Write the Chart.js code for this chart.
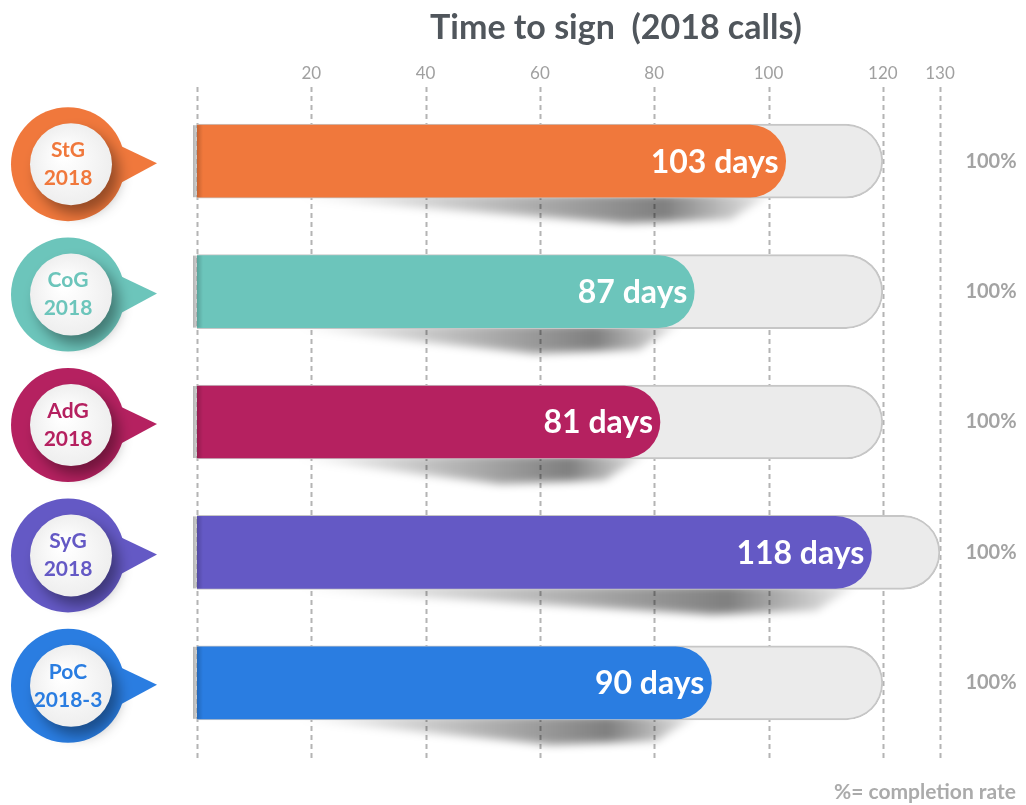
<!DOCTYPE html>
<html><head><meta charset="utf-8">
<script src="https://cdn.jsdelivr.net/npm/chart.js@4.4.1/dist/chart.umd.min.js"></script>
<style>html,body{margin:0;padding:0;background:#fff;}#wrap{width:1026px;height:805px;position:relative;}</style>
</head><body><div id="wrap"><canvas id="c" width="1026" height="805"></canvas></div>
<script>
const categories = ['StG 2018', 'CoG 2018', 'AdG 2018', 'SyG 2018', 'PoC 2018-3'];
const bubbleLine1 = ['StG', 'CoG', 'AdG', 'SyG', 'PoC'];
const bubbleLine2 = ['2018', '2018', '2018', '2018', '2018-3'];
const daysToSign = [103, 87, 81, 118, 90];
const trackMax = [120, 120, 120, 130, 120];
const completionRate = ['100%', '100%', '100%', '100%', '100%'];
const tickValues = [20, 40, 60, 80, 100, 120, 130];
const barColors = ['#F0783C', '#6CC5BB', '#B52160', '#6459C5', '#2A7DE1'];
const titleText = 'Time to sign  (2018 calls)';
const footnote = '%= completion rate';

const FONT = 'Lato, "Open Sans", sans-serif';
Chart.defaults.font.family = FONT;

const decor = {
  id: 'decor',
  beforeDraw(chart) {
    const ctx = chart.ctx, xs = chart.scales.x;
    ctx.save();
    ctx.fillStyle = '#fff';
    ctx.fillRect(0, 0, chart.width, chart.height);
    // title
    ctx.fillStyle = '#50565C';
    ctx.font = 'bold 34px ' + FONT;
    ctx.textAlign = 'center';
    ctx.textBaseline = 'middle';
    ctx.fillText(titleText, 616, 28);
    // dashed grid
    ctx.strokeStyle = '#B4B4B4';
    ctx.lineWidth = 2;
    ctx.setLineDash([5, 4]);
    [0].concat(tickValues).forEach(v => {
      const x = Math.round(xs.getPixelForValue(v)) + 0.5;
      ctx.beginPath();
      ctx.moveTo(x, 87);
      ctx.lineTo(x, 762);
      ctx.stroke();
    });
    ctx.setLineDash([]);
    // footnote
    ctx.fillStyle = '#ABABAB';
    ctx.font = 'bold 21px ' + FONT;
    ctx.textAlign = 'right';
    ctx.fillText(footnote, 1016, 792);
    ctx.restore();
  },
  beforeDatasetsDraw(chart) {
    const ctx = chart.ctx;
    const meta = chart.getDatasetMeta(0);
    meta.data.forEach((bar) => {
      const x0 = bar.base, xe = bar.x, bottom = bar.y + bar.height / 2;
      ctx.save();
      ctx.filter = 'blur(4px)';
      const g = ctx.createLinearGradient(x0 + 100, 0, xe, 0);
      g.addColorStop(0, 'rgba(0,0,0,0)');
      g.addColorStop(0.75, 'rgba(0,0,0,0.5)');
      g.addColorStop(1, 'rgba(0,0,0,0)');
      ctx.fillStyle = g;
      ctx.beginPath();
      ctx.moveTo(x0 + 100, bottom - 3);
      ctx.lineTo(xe - 15, bottom - 3);
      ctx.lineTo(xe - 55, bottom + 22);
      ctx.lineTo(xe - 160, bottom + 26);
      ctx.lineTo(x0 + 100, bottom + 1);
      ctx.closePath();
      ctx.fill();
      ctx.restore();
    });
  },
  afterDatasetsDraw(chart) {
    const ctx = chart.ctx, ys = chart.scales.y;
    const meta = chart.getDatasetMeta(0);
    ctx.save();
    meta.data.forEach((bar, i) => {
      const cy = bar.y;
      // left edge fold shading
      const lg = ctx.createLinearGradient(bar.base - 4, 0, bar.base + 6, 0);
      lg.addColorStop(0, 'rgba(0,0,0,0.3)');
      lg.addColorStop(1, 'rgba(0,0,0,0)');
      ctx.fillStyle = lg;
      ctx.fillRect(bar.base - 4, cy - 36, 10, 72);
      // value label
      ctx.fillStyle = '#fff';
      ctx.font = 'bold 32px ' + FONT;
      ctx.textAlign = 'right';
      ctx.textBaseline = 'middle';
      ctx.fillText(daysToSign[i] + ' days', bar.x - 7, cy + 1);
      // completion
      ctx.fillStyle = '#A3A3A3';
      ctx.font = 'bold 20px ' + FONT;
      ctx.textAlign = 'center';
      ctx.fillText(completionRate[i], 991, cy);
      // bubble
      const col = barColors[i];
      const bx = 68, by = ys.getPixelForValue(i) + 3;
      ctx.fillStyle = col;
      ctx.beginPath();
      ctx.moveTo(bx + 28, by - 30);
      ctx.lineTo(157, by - 1);
      ctx.lineTo(bx + 28, by + 32);
      ctx.closePath();
      ctx.fill();
      ctx.beginPath();
      ctx.arc(bx, by, 57, 0, Math.PI * 2);
      ctx.fill();
      ctx.save();
      ctx.shadowColor = 'rgba(0,0,0,0.38)';
      ctx.shadowBlur = 14;
      ctx.shadowOffsetX = 7;
      ctx.shadowOffsetY = 9;
      const rg = ctx.createRadialGradient(bx - 5, by - 10, 5, bx + 3, by, 42);
      rg.addColorStop(0, '#ffffff');
      rg.addColorStop(1, '#eeeeee');
      ctx.fillStyle = rg;
      ctx.beginPath();
      ctx.arc(bx + 3, by, 41, 0, Math.PI * 2);
      ctx.fill();
      ctx.restore();
      ctx.fillStyle = col;
      ctx.font = 'bold 21px ' + FONT;
      ctx.textAlign = 'center';
      ctx.textBaseline = 'middle';
      ctx.fillText(bubbleLine1[i], bx, by - 14);
      ctx.fillText(bubbleLine2[i], bx, by + 14);
    });
    ctx.restore();
  }
};

new Chart(document.getElementById('c'), {
  type: 'bar',
  data: {
    labels: categories,
    datasets: [
      { label: 'Days to sign', data: daysToSign, backgroundColor: barColors, barThickness: 72,
        borderRadius: 36, borderSkipped: 'start', borderWidth: 0, grouped: false, order: 0 },
      { label: 'Scale', data: trackMax, backgroundColor: '#EBEBEB', borderColor: '#C6C6C6', borderWidth: 2,
        barThickness: 74, borderRadius: 37, borderSkipped: 'start', grouped: false, order: 1 }
    ]
  },
  options: {
    indexAxis: 'y',
    responsive: false,
    animation: false,
    layout: { padding: { left: 197, right: 86, top: 46, bottom: 57 } },
    plugins: { legend: { display: false }, tooltip: { enabled: false }, title: { display: false } },
    scales: {
      x: {
        position: 'top', min: 0, max: 130,
        afterBuildTicks: s => { s.ticks = tickValues.map(v => ({ value: v })); },
        afterFit: s => { s.height = 50; },
        grid: { display: false, drawTicks: false },
        border: { display: false },
        ticks: { color: '#A0A0A0', font: { size: 17 }, padding: 12, autoSkip: false, maxRotation: 0 }
      },
      y: { display: false }
    }
  },
  plugins: [decor]
});
</script>
</body></html>
